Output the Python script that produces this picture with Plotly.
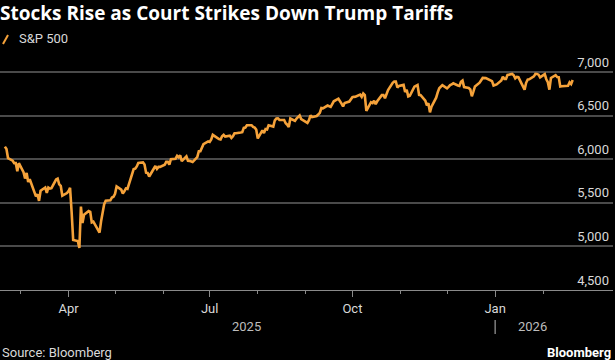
import plotly.graph_objects as go

dates = [
    "2025-02-19","2025-02-20","2025-02-21","2025-02-24","2025-02-25","2025-02-26","2025-02-27","2025-02-28",
    "2025-03-03","2025-03-04","2025-03-05","2025-03-06","2025-03-07","2025-03-10","2025-03-11","2025-03-12","2025-03-13","2025-03-14",
    "2025-03-17","2025-03-18","2025-03-19","2025-03-20","2025-03-21","2025-03-24","2025-03-25","2025-03-26","2025-03-27","2025-03-28","2025-03-31",
    "2025-04-01","2025-04-02","2025-04-03","2025-04-04","2025-04-07","2025-04-08","2025-04-09","2025-04-10","2025-04-11",
    "2025-04-14","2025-04-15","2025-04-16","2025-04-17","2025-04-21","2025-04-22","2025-04-23","2025-04-24","2025-04-25",
    "2025-04-28","2025-04-29","2025-04-30","2025-05-01","2025-05-02","2025-05-05","2025-05-06","2025-05-07","2025-05-08","2025-05-09",
    "2025-05-12","2025-05-13","2025-05-14","2025-05-15","2025-05-16","2025-05-19","2025-05-20","2025-05-21","2025-05-22","2025-05-23",
    "2025-05-27","2025-05-28","2025-05-29","2025-05-30","2025-06-02","2025-06-03","2025-06-04","2025-06-05","2025-06-06",
    "2025-06-09","2025-06-10","2025-06-11","2025-06-12","2025-06-13","2025-06-16","2025-06-17","2025-06-18","2025-06-20",
    "2025-06-23","2025-06-24","2025-06-25","2025-06-26","2025-06-27","2025-06-30","2025-07-01","2025-07-02","2025-07-03",
    "2025-07-07","2025-07-08","2025-07-09","2025-07-10","2025-07-11","2025-07-14","2025-07-15","2025-07-16","2025-07-17","2025-07-18",
    "2025-07-21","2025-07-22","2025-07-23","2025-07-24","2025-07-25","2025-07-28","2025-07-29","2025-07-30","2025-07-31","2025-08-01",
    "2025-08-04","2025-08-05","2025-08-06","2025-08-07","2025-08-08","2025-08-11","2025-08-12","2025-08-13","2025-08-14","2025-08-15",
    "2025-08-18","2025-08-19","2025-08-20","2025-08-21","2025-08-22","2025-08-25","2025-08-26","2025-08-27","2025-08-28","2025-08-29",
    "2025-09-02","2025-09-03","2025-09-04","2025-09-05","2025-09-08","2025-09-09","2025-09-10","2025-09-11","2025-09-12",
    "2025-09-15","2025-09-16","2025-09-17","2025-09-18","2025-09-19","2025-09-22","2025-09-23","2025-09-24","2025-09-25","2025-09-26",
    "2025-09-29","2025-09-30","2025-10-01","2025-10-02","2025-10-03","2025-10-06","2025-10-07","2025-10-08","2025-10-09","2025-10-10",
    "2025-10-13","2025-10-14","2025-10-15","2025-10-16","2025-10-17","2025-10-20","2025-10-21","2025-10-22","2025-10-23","2025-10-24",
    "2025-10-27","2025-10-28","2025-10-29","2025-10-30","2025-10-31","2025-11-03","2025-11-04","2025-11-05","2025-11-06","2025-11-07",
    "2025-11-10","2025-11-11","2025-11-12","2025-11-13","2025-11-14","2025-11-17","2025-11-18","2025-11-19","2025-11-20","2025-11-21",
    "2025-11-24","2025-11-25","2025-11-26","2025-11-28","2025-12-01","2025-12-02","2025-12-03","2025-12-04","2025-12-05",
    "2025-12-08","2025-12-09","2025-12-10","2025-12-11","2025-12-12","2025-12-15","2025-12-16","2025-12-17","2025-12-18","2025-12-19",
    "2025-12-22","2025-12-23","2025-12-24","2025-12-26","2025-12-29","2025-12-30","2025-12-31",
    "2026-01-02","2026-01-05","2026-01-06","2026-01-07","2026-01-08","2026-01-09","2026-01-12","2026-01-13","2026-01-14","2026-01-15","2026-01-16",
    "2026-01-20","2026-01-21","2026-01-22","2026-01-23","2026-01-26","2026-01-27","2026-01-28","2026-01-29","2026-01-30",
    "2026-02-02","2026-02-03","2026-02-04","2026-02-05","2026-02-06","2026-02-09","2026-02-10","2026-02-11","2026-02-12","2026-02-13",
    "2026-02-17","2026-02-18","2026-02-19","2026-02-20",
]

spx = [
    6144,6117,6013,5983,5955,5956,5861,5955,
    5850,5778,5843,5739,5770,5615,5573,5599,5522,5639,
    5675,5615,5675,5663,5668,5767,5777,5712,5693,5581,5612,
    5633,5671,5397,5074,5062,4982,5457,5268,5363,
    5406,5397,5276,5283,5158,5288,5376,5485,5525,
    5529,5561,5569,5604,5687,5650,5607,5631,5664,5660,
    5844,5886,5892,5917,5958,5964,5940,5845,5842,5802,
    5922,5889,5912,5912,5936,5970,5971,5939,6000,
    6006,6038,6022,6045,5977,6033,5983,5981,5967,
    6025,6092,6092,6141,6173,6205,6198,6227,6279,
    6230,6226,6263,6280,6260,6269,6244,6264,6297,6297,
    6306,6310,6359,6363,6389,6390,6371,6363,6339,6238,
    6330,6299,6345,6340,6389,6374,6446,6466,6469,6450,
    6449,6412,6396,6370,6467,6440,6466,6481,6502,6460,
    6416,6448,6502,6482,6495,6512,6532,6587,6584,
    6615,6607,6600,6632,6664,6694,6657,6638,6605,6644,
    6661,6688,6711,6715,6716,6740,6715,6753,6735,6553,
    6654,6644,6671,6630,6664,6735,6736,6699,6738,6792,
    6875,6891,6891,6822,6840,6852,6771,6796,6720,6728,
    6832,6846,6851,6738,6734,6672,6617,6642,6538,6603,
    6705,6766,6813,6849,6812,6829,6850,6857,6870,
    6846,6840,6887,6901,6827,6817,6800,6721,6775,6835,
    6878,6910,6932,6930,6905,6896,6845,
    6858,6902,6945,6921,6921,6966,6977,6963,6927,6944,6940,
    6797,6876,6913,6916,6950,6979,6978,6969,6939,
    6976,6917,6883,6798,6932,6964,6942,6941,6833,6836,
    6843,6881,6861,6909,
]

title_text = "Stocks Rise as Court Strikes Down Trump Tariffs"
series_name = "S&P 500"
y_ticks = [4500, 5000, 5500, 6000, 6500, 7000]
year_labels = [("2025-07-25", "2025"), ("2026-01-25", "2026")]

ORANGE = "#f5a23a"
GRID = "#4a4a4a"
TXT = "#d9d9d9"
FONT = "Roboto"
TFONT = "Open Sans"

# plot area: bottom (4,500) at y=290px, top at y=45px; 500 units = 43.6px
PLOT_TOP, PLOT_BOTTOM = 45, 290
PH = PLOT_BOTTOM - PLOT_TOP
Y_TOP = 4500 + PH * 500 / 43.6

def py(pix):
    return (PLOT_BOTTOM - pix) / PH

fig = go.Figure()
fig.add_trace(go.Scatter(
    x=dates, y=spx, mode="lines", name=series_name,
    line=dict(color=ORANGE, width=2.6), showlegend=False,
))

fig.update_layout(
    width=615, height=360,
    paper_bgcolor="#000000", plot_bgcolor="#000000",
    margin=dict(l=0, r=2, t=PLOT_TOP, b=360 - PLOT_BOTTOM),
    font=dict(family=FONT, color=TXT, size=13),
    title=dict(text="<b>" + title_text + "</b>", x=0, xref="paper", xanchor="left",
               y=1 - 13 / 360, yref="container", yanchor="middle",
               font=dict(family=TFONT, size=19, color="#ffffff")),
    xaxis=dict(
        type="date", range=["2025-02-15 20:00", "2026-03-18"],
        showgrid=False, zeroline=False,
        showline=True, linecolor="#8a8a8a", linewidth=1,
        tick0="2025-01-01", dtick="M3", tickformat="%b",
        ticks="outside", ticklen=6, tickcolor="#8a8a8a", tickwidth=1,
        tickfont=dict(color=TXT, size=13, family=FONT),
        minor=dict(dtick="M1", ticks="outside", ticklen=3, tickcolor="#8a8a8a", showgrid=False),
    ),
    yaxis=dict(
        range=[4500, Y_TOP], side="right",
        tickvals=y_ticks, tickformat=",",
        showgrid=True, gridcolor=GRID, gridwidth=1.5, zeroline=False,
        ticklabelposition="inside", ticklabelshift=-10, ticklabelstandoff=1,
        ticks="", showline=False,
        tickfont=dict(color=TXT, size=13, family=FONT),
    ),
)

# legend
fig.add_shape(type="line", xref="paper", yref="paper",
              x0=3 / 613, x1=8 / 613, y0=py(44), y1=py(35),
              line=dict(color=ORANGE, width=2))
fig.add_annotation(text=series_name, xref="paper", yref="paper", x=17 / 613, y=py(39),
                   xanchor="left", yanchor="middle", showarrow=False,
                   font=dict(family=FONT, size=13, color=TXT))

# year labels
for d, t in year_labels:
    fig.add_annotation(text=t, xref="x", yref="paper", x=d, y=py(326),
                       xanchor="center", yanchor="middle", showarrow=False,
                       font=dict(family=FONT, size=13, color="#bdbdbd"))
fig.add_shape(type="line", xref="x", yref="paper", x0="2026-01-01", x1="2026-01-01",
              y0=py(320), y1=py(334), line=dict(color="#bdbdbd", width=1))

# footer
fig.add_annotation(text="Source: Bloomberg", xref="paper", yref="paper", x=0, y=py(352),
                   xanchor="left", yanchor="middle", showarrow=False,
                   font=dict(family=FONT, size=13, color=TXT))
fig.add_annotation(text="<b>Bloomberg</b>", xref="paper", yref="paper", x=1, y=py(352),
                   xanchor="right", yanchor="middle", showarrow=False,
                   font=dict(family=FONT, size=13, color="#ffffff"))

fig.write_html("out.html", config={"displayModeBar": False},
               post_script="document.body.style.margin='0';document.body.style.background='#000';")
